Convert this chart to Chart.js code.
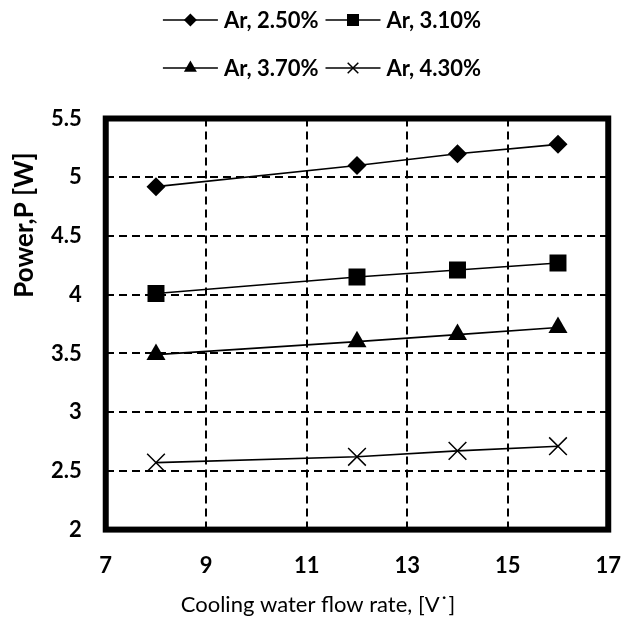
<!DOCTYPE html>
<html>
<head>
<meta charset="utf-8">
<title>Power vs cooling water flow rate</title>
<script src="https://cdn.jsdelivr.net/npm/chart.js@4"></script>
<style>
  html, body { margin: 0; padding: 0; background: #fff; }
  #wrap { width: 644px; height: 622px; }
</style>
</head>
<body>
<div id="wrap"><canvas id="powerChart"></canvas></div>
<script>
// values
const flowRates = [8, 12, 14, 16];
const seriesNames = ['Ar, 2.50%', 'Ar, 3.10%', 'Ar, 3.70%', 'Ar, 4.30%'];
const ar250 = [4.92, 5.10, 5.20, 5.28];
const ar310 = [4.01, 4.15, 4.21, 4.27];
const ar370 = [3.49, 3.60, 3.66, 3.72];
const ar430 = [2.57, 2.62, 2.67, 2.71];
const xTicks = [7, 9, 11, 13, 15, 17];
const yTicks = ['2', '2.5', '3', '3.5', '4', '4.5', '5', '5.5'];
const xTitle = 'Cooling water flow rate, [V˙]';
const yTitle = 'Power,P [W]';

const markers = ['rectRot', 'rect', 'triangle', 'crossRot'];
const markerSize = [9.5, 12, 11, 12.5];
const legendSize = [6.5, 8.5, 7.5, 7.5];
const fontFam = 'Lato, "Open Sans", sans-serif';

function drawMarker(ctx, style, x, y, r) {
  ctx.beginPath();
  if (style === 'rectRot') {
    ctx.moveTo(x - r, y); ctx.lineTo(x, y - r);
    ctx.lineTo(x + r, y); ctx.lineTo(x, y + r);
    ctx.closePath(); ctx.fill();
  } else if (style === 'rect') {
    let s = r * Math.SQRT1_2;
    ctx.rect(x - s, y - s, 2 * s, 2 * s); ctx.fill();
  } else if (style === 'triangle') {
    ctx.moveTo(x, y - r);
    ctx.lineTo(x + r * 0.866, y + r / 2);
    ctx.lineTo(x - r * 0.866, y + r / 2);
    ctx.closePath(); ctx.fill();
  } else {
    let d = r * Math.SQRT1_2;
    ctx.moveTo(x - d, y - d); ctx.lineTo(x + d, y + d);
    ctx.moveTo(x + d, y - d); ctx.lineTo(x - d, y + d);
    ctx.stroke();
  }
}

// legend in two rows of two, like the original
const twoRowLegend = {
  id: 'twoRowLegend',
  afterDraw(chart) {
    let ctx = chart.ctx;
    let sets = chart.data.datasets;
    ctx.save();
    ctx.font = 'bold 22px ' + fontFam;
    ctx.textBaseline = 'middle';
    ctx.fillStyle = '#000';
    ctx.strokeStyle = '#000';
    let symW = 55, gapText = 6, gapItem = 7;
    let rows = [[0, 1], [2, 3]];
    let rowY = [20, 68];
    rows.forEach((row, ri) => {
      let widths = row.map(i => symW + gapText + ctx.measureText(sets[i].label).width);
      let x = (chart.width - (widths[0] + widths[1] + gapItem)) / 2;
      let y = rowY[ri];
      row.forEach((i, k) => {
        ctx.lineWidth = 1.5;
        ctx.beginPath(); ctx.moveTo(x, y); ctx.lineTo(x + symW, y); ctx.stroke();
        drawMarker(ctx, markers[i], x + symW / 2, y, legendSize[i]);
        ctx.fillText(sets[i].label, x + symW + gapText, y + 1);
        x += widths[k] + gapItem;
      });
    });
    ctx.restore();
  }
};

// axis titles sit where the original put them, not centred on the axes
const axisTitles = {
  id: 'axisTitles',
  afterDraw(chart) {
    let ctx = chart.ctx;
    ctx.save();
    ctx.fillStyle = '#000';
    ctx.textAlign = 'center';
    ctx.textBaseline = 'middle';
    ctx.font = '22px ' + fontFam;
    ctx.fillText(xTitle, 318, 605);
    ctx.translate(25, 225);
    ctx.rotate(-Math.PI / 2);
    ctx.font = 'bold 26px ' + fontFam;
    ctx.fillText(yTitle, 0, 0);
    ctx.restore();
  }
};

// thick box round the plot area
const plotFrame = {
  id: 'plotFrame',
  beforeDatasetsDraw(chart) {
    let ctx = chart.ctx, a = chart.chartArea;
    ctx.save();
    ctx.lineWidth = 6;
    ctx.strokeStyle = '#000';
    ctx.strokeRect(a.left, a.top, a.right - a.left, a.bottom - a.top);
    ctx.restore();
  }
};

function makeSet(i, values) {
  return {
    label: seriesNames[i],
    data: flowRates.map((x, k) => ({ x: x, y: values[k] })),
    borderColor: '#000',
    backgroundColor: '#000',
    borderWidth: 1.6,
    pointStyle: markers[i],
    pointRadius: markerSize[i],
    pointBackgroundColor: '#000',
    pointBorderColor: '#000',
    pointBorderWidth: i === 3 ? 1.5 : 0,
    showLine: true,
    fill: false,
    tension: 0
  };
}

let gridOpts = { color: '#000', lineWidth: 2, drawTicks: false };
let borderOpts = { display: false, dash: [8, 5] };
let tickFont = { family: fontFam, size: 22, weight: 'bold' };

new Chart(document.getElementById('powerChart'), {
  type: 'scatter',
  data: {
    datasets: [makeSet(0, ar250), makeSet(1, ar310), makeSet(2, ar370), makeSet(3, ar430)]
  },
  options: {
    responsive: true,
    maintainAspectRatio: false,
    animation: false,
    devicePixelRatio: 1,
    layout: { padding: { top: 118.5, left: 27, right: 35.5, bottom: 20 } },
    plugins: { legend: { display: false }, tooltip: { enabled: false } },
    scales: {
      x: {
        type: 'linear', min: 7, max: 17,
        afterBuildTicks: s => { s.ticks = xTicks.map(v => ({ value: v })); },
        ticks: { color: '#000', font: tickFont, padding: 23, maxRotation: 0 },
        grid: gridOpts, border: borderOpts
      },
      y: {
        type: 'linear', min: 2, max: 5.5,
        afterBuildTicks: s => { s.ticks = yTicks.map(t => ({ value: parseFloat(t) })); },
        ticks: { color: '#000', font: tickFont, padding: 24,
                 callback: (v, i) => yTicks[i] },
        grid: gridOpts, border: borderOpts
      }
    }
  },
  plugins: [plotFrame, twoRowLegend, axisTitles]
});
</script>
</body>
</html>
